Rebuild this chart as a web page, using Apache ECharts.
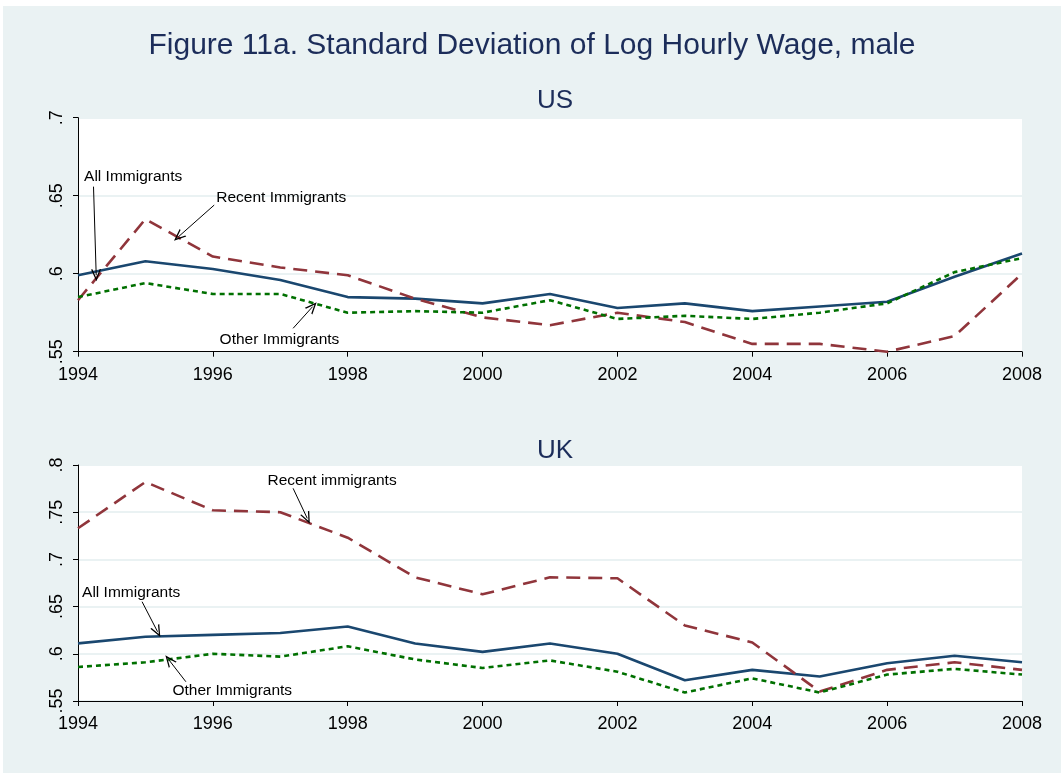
<!DOCTYPE html>
<html>
<head>
<meta charset="utf-8">
<script src="https://cdn.jsdelivr.net/npm/echarts@6/dist/echarts.min.js"></script>
<style>
  html, body { margin: 0; padding: 0; background: #ffffff; }
  #main { position: absolute; left: 3px; top: 6px; width: 1058px; height: 767px; }
</style>
</head>
<body>
<div id="main"></div>
<script>
var years = [1994, 1995, 1996, 1997, 1998, 1999, 2000, 2001, 2002, 2003, 2004, 2005, 2006, 2007, 2008];

// US panel
var usAll    = [0.599, 0.608, 0.603, 0.596, 0.585, 0.584, 0.581, 0.587, 0.578, 0.581, 0.576, 0.579, 0.582, 0.598, 0.613];
var usRecent = [0.583, 0.635, 0.611, 0.604, 0.599, 0.584, 0.572, 0.567, 0.575, 0.569, 0.555, 0.555, 0.550, 0.560, 0.600];
var usOther  = [0.585, 0.594, 0.587, 0.587, 0.575, 0.576, 0.575, 0.583, 0.571, 0.573, 0.571, 0.575, 0.581, 0.601, 0.610];

// UK panel
var ukAll    = [0.611, 0.618, 0.620, 0.622, 0.629, 0.611, 0.602, 0.611, 0.600, 0.572, 0.583, 0.576, 0.590, 0.598, 0.591];
var ukRecent = [0.733, 0.782, 0.752, 0.750, 0.723, 0.681, 0.663, 0.681, 0.680, 0.630, 0.612, 0.560, 0.583, 0.591, 0.583];
var ukOther  = [0.586, 0.591, 0.600, 0.597, 0.608, 0.594, 0.585, 0.593, 0.581, 0.559, 0.574, 0.559, 0.578, 0.584, 0.578];

// annotation labels: [text, label anchor, arrow start, arrow end] in data units
var usNotes = [
    ['All Immigrants',    [1994.09, 0.6622], [1994.23, 0.6558], [1994.27, 0.5990]],
    ['Recent Immigrants', [1996.05, 0.6487], [1996.02, 0.6440], [1995.49, 0.6237]],
    ['Other Immigrants',  [1996.10, 0.5580], [1997.19, 0.5650], [1997.48, 0.5789]]
];
var ukNotes = [
    ['Recent immigrants', [1996.81, 0.7834], [1997.19, 0.7753], [1997.40, 0.7435]],
    ['All Immigrants',    [1994.06, 0.6647], [1994.95, 0.6552], [1995.18, 0.6234]],
    ['Other Immigrants',  [1995.40, 0.5609], [1995.60, 0.5704], [1995.35, 0.5934]]
];

var chart = echarts.init(document.getElementById('main'));

function pairs(vals) {
    return years.map(function (y, i) { return [y, vals[i]]; });
}

var font = 'Liberation Sans, Arial, sans-serif';
var arrowHead = 'path://M5,0 L10,10 L8.6,10 L5,2.8 L1.4,10 L0,10 Z';

function noteSeries(notes, axisIdx) {
    return {
        type: 'line',
        xAxisIndex: axisIdx,
        yAxisIndex: axisIdx,
        data: [],
        silent: true,
        markPoint: {
            symbol: 'circle',
            symbolSize: 0,
            label: {
                show: true,
                position: 'right',
                distance: 0,
                color: '#000',
                fontSize: 15.5,
                fontFamily: font,
                formatter: function (p) { return p.name; }
            },
            data: notes.map(function (n) { return { name: n[0], coord: n[1] }; })
        },
        markLine: {
            silent: true,
            symbol: ['none', arrowHead],
            symbolSize: [10, 12],
            lineStyle: { color: '#000', width: 1, type: 'solid' },
            label: { show: false },
            data: notes.map(function (n) { return [{ coord: n[2] }, { coord: n[3] }]; })
        }
    };
}

function lineSeries(vals, axisIdx, color, dash) {
    return {
        type: 'line',
        xAxisIndex: axisIdx,
        yAxisIndex: axisIdx,
        data: pairs(vals),
        symbol: 'none',
        lineStyle: { color: color, width: 2.6, type: dash }
    };
}

function xAxisFor(gridIdx) {
    return {
        type: 'value',
        gridIndex: gridIdx,
        min: 1994,
        max: 2008,
        interval: 2,
        splitLine: { show: false },
        axisLine: { lineStyle: { color: '#000', width: 1 } },
        axisTick: { length: 5, lineStyle: { color: '#000' } },
        axisLabel: {
            color: '#000', fontSize: 18, fontFamily: font, margin: 14,
            formatter: function (v) { return String(v); }
        }
    };
}

function yAxisFor(gridIdx, max) {
    return {
        type: 'value',
        gridIndex: gridIdx,
        min: 0.55,
        max: max,
        interval: 0.05,
        axisLine: { show: true, lineStyle: { color: '#000', width: 1 } },
        axisTick: { show: true, length: 5, lineStyle: { color: '#000' } },
        splitLine: { show: true, lineStyle: { color: '#EAF2F3', width: 2 } },
        axisLabel: {
            color: '#000', fontSize: 18, fontFamily: font, rotate: 90, margin: 12,
            formatter: function (v) { return (+v.toFixed(2)).toString().replace(/^0/, ''); }
        }
    };
}

var option = {
    backgroundColor: '#EAF2F3',
    animation: false,
    title: [
        { text: 'Figure 11a. Standard Deviation of Log Hourly Wage, male', left: 'center', top: 20,
          textStyle: { color: '#1c2d5a', fontSize: 30, fontWeight: 'normal', fontFamily: font } },
        { text: 'US', left: 547, top: 77, textAlign: 'center',
          textStyle: { color: '#1c2d5a', fontSize: 26, fontWeight: 'normal', fontFamily: font } },
        { text: 'UK', left: 547, top: 427, textAlign: 'center',
          textStyle: { color: '#1c2d5a', fontSize: 26, fontWeight: 'normal', fontFamily: font } }
    ],
    grid: [
        { left: 75, right: 39, top: 111.7, height: 234, show: true, backgroundColor: '#ffffff', borderWidth: 0 },
        { left: 75, right: 39, top: 459, height: 236, show: true, backgroundColor: '#ffffff', borderWidth: 0 }
    ],
    xAxis: [xAxisFor(0), xAxisFor(1)],
    yAxis: [yAxisFor(0, 0.7), yAxisFor(1, 0.8)],
    series: [
        lineSeries(usAll, 0, '#1A476F', 'solid'),
        lineSeries(usRecent, 0, '#90353B', [14, 8]),
        lineSeries(usOther, 0, '#007000', [5, 4]),
        noteSeries(usNotes, 0),
        lineSeries(ukAll, 1, '#1A476F', 'solid'),
        lineSeries(ukRecent, 1, '#90353B', [14, 8]),
        lineSeries(ukOther, 1, '#007000', [5, 4]),
        noteSeries(ukNotes, 1)
    ]
};

chart.setOption(option);

window.addEventListener('resize', function () {
    chart.resize();
});
</script>
</body>
</html>
